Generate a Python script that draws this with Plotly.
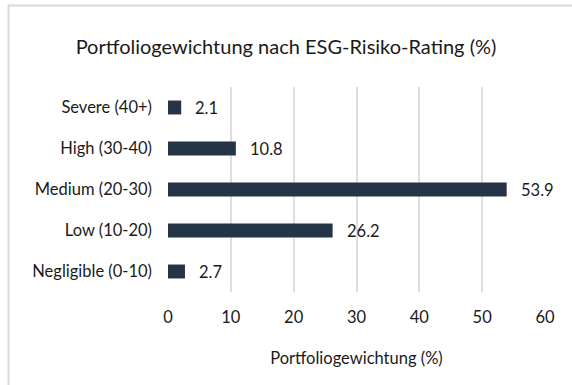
import plotly.graph_objects as go

# ESG risk rating buckets and portfolio weights (%)
categories = ["Negligible (0-10)", "Low (10-20)", "Medium (20-30)", "High (30-40)", "Severe (40+)"]
weights = [2.7, 26.2, 53.9, 10.8, 2.1]
tick_values = [0, 10, 20, 30, 40, 50, 60]

BAR_COLOR = "#253546"
GRID_COLOR = "#dedede"
TEXT_COLOR = "#1a1a1a"
FONT = "Lato"
FS = 16.5

W, H = 572, 385
ML, MR, MT, MB = 168, 27, 87, 93
plot_w = W - ML - MR
plot_h = H - MT - MB

fig = go.Figure(
    go.Bar(
        x=weights,
        y=categories,
        orientation="h",
        marker=dict(color=BAR_COLOR, line=dict(width=0)),
        hoverinfo="x+y",
    )
)

# value labels just right of each bar end
for cat, val in zip(categories, weights):
    fig.add_annotation(
        x=val, y=cat, xref="x", yref="y",
        text=f"{val:.1f}", showarrow=False,
        xanchor="left", xshift=12,
        font=dict(family=FONT, size=FS, color=TEXT_COLOR),
    )

# light frame around the chart area
def px_to_paper_x(px):
    return (px - ML) / plot_w

def px_to_paper_y(py):
    return (H - MB - py) / plot_h

fig.add_shape(
    type="rect", xref="paper", yref="paper",
    x0=px_to_paper_x(8.5), x1=px_to_paper_x(W + 20),
    y0=px_to_paper_y(H + 20), y1=px_to_paper_y(5.5),
    line=dict(color="#d9d9d9", width=2), fillcolor="rgba(0,0,0,0)",
    layer="below",
)

fig.update_layout(
    width=W, height=H,
    margin=dict(l=ML, r=MR, t=MT, b=MB),
    paper_bgcolor="white", plot_bgcolor="white",
    bargap=0.66,
    showlegend=False,
    font=dict(family=FONT, size=FS, color=TEXT_COLOR),
    title=dict(
        text="Portfoliogewichtung nach ESG-Risiko-Rating (%)",
        x=0.5, xref="container", xanchor="center",
        y=1 - 47 / H, yanchor="middle", yref="container",
        font=dict(family=FONT, size=20, color=TEXT_COLOR),
    ),
    xaxis=dict(
        range=[0, 60],
        tickvals=tick_values,
        showgrid=True, gridcolor=GRID_COLOR, gridwidth=1.5,
        zeroline=False, showline=False,
        ticks="", ticklabelstandoff=13,
        tickfont=dict(family=FONT, size=FS, color=TEXT_COLOR),
        title=dict(
            text="Portfoliogewichtung (%)",
            font=dict(family=FONT, size=FS, color=TEXT_COLOR),
            standoff=26,
        ),
    ),
    yaxis=dict(
        showgrid=False, zeroline=False, showline=False,
        ticks="", ticklabelstandoff=15,
        tickfont=dict(family=FONT, size=FS, color=TEXT_COLOR),
    ),
)

fig.write_html("out.html")
